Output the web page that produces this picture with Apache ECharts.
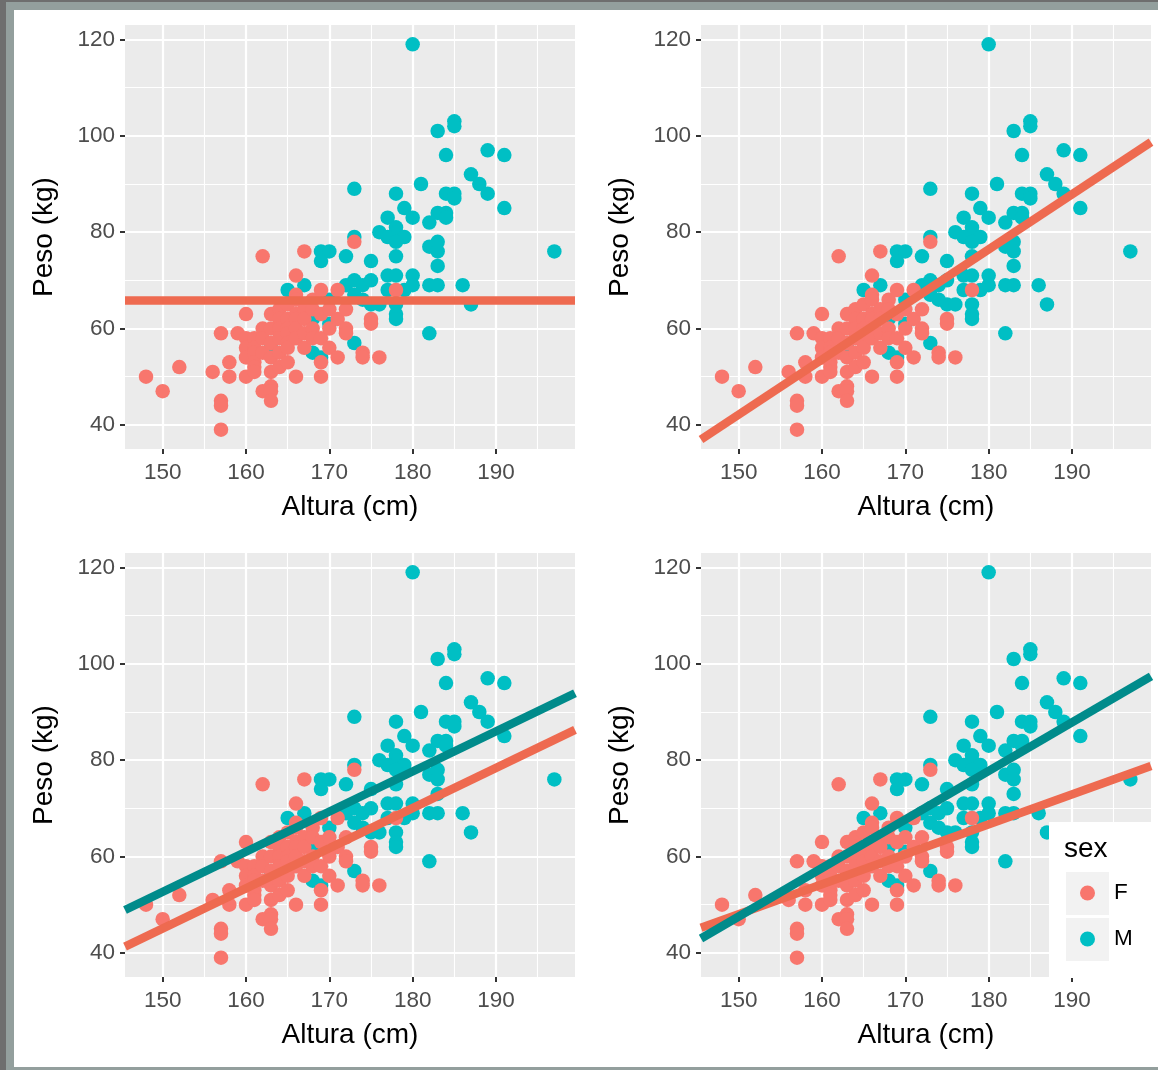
<!DOCTYPE html>
<html><head><meta charset="utf-8">
<script src="https://cdn.jsdelivr.net/npm/echarts@6/dist/echarts.min.js"></script>
<style>
html,body{margin:0;padding:0;width:1158px;height:1070px;overflow:hidden;background:#6e6e6e;}
#frame{position:absolute;left:6px;top:2px;width:1152px;height:1068px;background:#939f9d;}
#paper{position:absolute;left:14px;top:10px;width:1144px;height:1057px;background:#ffffff;}
#chart{position:absolute;left:0;top:0;width:1158px;height:1070px;}
</style></head>
<body>
<div id="frame"></div><div id="paper"></div>
<div id="chart"></div>
<script>
// ---- data ----
const femalePoints = [
 [148,50],[150,47],[152,52],[156,51],[157,59],[157,45],[157,44],[157,39],[158,53],[158,50],[159,59],
 [160,63],[160,58],[160,56],[160,54],[160,50],
 [161,58],[161,56],[161,55],[161,53],[161,52],[161,51],
 [162,75],[162,60],[162,58],[162,55],[162,47],
 [163,63],[163,60],[163,57],[163,54],[163,51],[163,48],[163,47],[163,45],
 [164,64],[164,62],[164,60],[164,58],[164,55],[164,52],
 [165,65],[165,62],[165,60],[165,59],[165,57],[165,56],[165,53],
 [166,71],[166,67],[166,66],[166,63],[166,62],[166,60],[166,58],[166,50],
 [167,76],[167,64],[167,62],[167,59],[167,56],
 [168,66],[168,64],[168,60],[168,58],
 [169,68],[169,63],[169,58],[169,53],[169,50],
 [170,64],[170,60],[170,56],
 [171,68],[171,62],[171,54],
 [172,64],[172,60],[172,59],
 [173,78],
 [174,55],[174,54],
 [175,62],[175,61],
 [176,54],
 [178,68]
];
const malePoints = [
 [180,119],[185,103],[185,102],[183,101],[184,96],[189,97],[191,96],[187,92],[188,90],[189,88],
 [181,90],[173,89],[178,88],[184,88],[185,88],[185,87],[191,85],[179,85],[180,83],[177,83],
 [183,84],[184,84],[184,83],[182,82],[178,81],[176,80],[178,80],[177,79],[179,79],[178,78],
 [173,79],[169,76],[170,76],[169,74],[172,75],[175,74],[178,75],[182,77],[183,78],[183,76],
 [183,73],[197,76],[165,68],[167,69],[170,66],[172,69],[173,70],[174,69],[173,67],[175,70],
 [177,71],[178,71],[180,71],[180,69],[182,69],[183,69],[186,69],[187,65],[182,59],[174,66],
 [175,65],[176,65],[178,65],[178,63],[178,62],[177,68],[179,68],[168,62],[170,61],[168,55],
 [169,54],[173,57],[163,56]
];
const xRange = [145.48, 199.48];
const yRange = [35, 123];
const xTicks = [150,160,170,180,190];
const xMinor = [155,165,175,185,195];
const yTicks = [40,60,80,100,120];
const yMinor = [50,70,90,110];
// fitted lines: weight at the two ends of xRange
const meanWeight = [65.8, 65.8];
const fitAll = [36.97, 98.7];
const parallelF = [41.3, 86.3];
const parallelM = [48.9, 93.9];
const separateF = [45.2, 78.8];
const separateM = [43.0, 97.4];
const sexLevels = ['F','M'];
const xTitle = 'Altura (cm)';
const yTitle = 'Peso (kg)';

// ---- styling ----
const FONT = "'Liberation Sans', Arial, Helvetica, sans-serif";
const colF = '#F8766D', colM = '#00BFC4';
const lineRed = '#EE6A50', lineTeal = '#008B8B';
const panels = [{left:125, top:25},{left:701, top:25},{left:125, top:553},{left:701, top:553}];
const PW = 450, PH = 424;

const grid = panels.map(p => ({left:p.left, top:p.top, width:PW, height:PH, show:true,
  backgroundColor:'#EBEBEB', borderWidth:0, containLabel:false}));

const xAxis = panels.map((p,i) => ({
  gridIndex:i, type:'value', min:xRange[0], max:xRange[1],
  name:xTitle, nameLocation:'middle', nameGap:44,
  nameTextStyle:{fontSize:28, color:'#000', fontFamily:FONT},
  axisLine:{show:false},
  axisTick:{show:true, customValues:xTicks, length:5, lineStyle:{color:'#333333', width:2}},
  axisLabel:{customValues:xTicks, fontSize:22.5, color:'#4D4D4D', fontFamily:FONT, margin:12},
  splitLine:{show:false}
}));
const yAxis = panels.map((p,i) => ({
  gridIndex:i, type:'value', min:yRange[0], max:yRange[1],
  name:yTitle, nameLocation:'middle', nameGap:67,
  nameTextStyle:{fontSize:28, color:'#000', fontFamily:FONT},
  axisLine:{show:false},
  axisTick:{show:true, customValues:yTicks, length:5, lineStyle:{color:'#333333', width:2}},
  axisLabel:{customValues:yTicks, fontSize:22.5, color:'#4D4D4D', fontFamily:FONT, margin:10},
  splitLine:{show:false}
}));

const series = [];
panels.forEach((p,i) => {
  // panel grid lines
  series.push({
    type:'scatter', xAxisIndex:i, yAxisIndex:i, data:[], z:1, silent:true,
    markLine:{silent:true, z:1, symbol:'none', label:{show:false}, animation:false,
      data:[
        ...xMinor.map(v=>({xAxis:v, lineStyle:{color:'#FFFFFF', width:1.1, type:'solid'}})),
        ...yMinor.map(v=>({yAxis:v, lineStyle:{color:'#FFFFFF', width:1.1, type:'solid'}})),
        ...xTicks.map(v=>({xAxis:v, lineStyle:{color:'#FFFFFF', width:2.2, type:'solid'}})),
        ...yTicks.map(v=>({yAxis:v, lineStyle:{color:'#FFFFFF', width:2.2, type:'solid'}}))
      ]}
  });
  series.push({name:'M', type:'scatter', xAxisIndex:i, yAxisIndex:i, data:malePoints,
    symbolSize:14.5, itemStyle:{color:colM, opacity:1}, z:2});
  series.push({name:'F', type:'scatter', xAxisIndex:i, yAxisIndex:i, data:femalePoints,
    symbolSize:14.5, itemStyle:{color:colF, opacity:1}, z:2});
});
function fitLine(i, ends, color){
  return {type:'line', xAxisIndex:i, yAxisIndex:i, symbol:'none', z:3, silent:true,
    data:[[xRange[0], ends[0]],[xRange[1], ends[1]]],
    lineStyle:{color:color, width:8.5, cap:'butt'}, clip:true};
}
series.push(fitLine(0, meanWeight, lineRed));
series.push(fitLine(1, fitAll, lineRed));
series.push(fitLine(2, parallelF, lineRed));
series.push(fitLine(2, parallelM, lineTeal));
series.push(fitLine(3, separateF, lineRed));
series.push(fitLine(3, separateM, lineTeal));

const legendCommon = {orient:'vertical', left:1080, itemWidth:15, itemHeight:15, icon:'circle',
  padding:0, z:6, selectedMode:false,
  textStyle:{fontSize:22.5, color:'#000', fontFamily:FONT, lineHeight:24, padding:[0,0,0,14]}};
const legend = [
  Object.assign({}, legendCommon, {data:[sexLevels[0]], top:881}),
  Object.assign({}, legendCommon, {data:[sexLevels[1]], top:927})
];

const graphic = [
  {type:'rect', z:5, shape:{x:1049, y:822, width:115, height:156}, style:{fill:'#FFFFFF'}, silent:true},
  {type:'rect', z:5, z2:1, shape:{x:1066, y:872, width:43, height:43}, style:{fill:'#F2F2F2'}, silent:true},
  {type:'rect', z:5, z2:1, shape:{x:1066, y:918, width:43, height:43}, style:{fill:'#F2F2F2'}, silent:true},
  {type:'text', z:5, z2:2, left:1064, top:835, style:{text:'sex', fontSize:28, fill:'#000', fontFamily:FONT}}
];

const chart = echarts.init(document.getElementById('chart'), null, {renderer:'canvas'});
chart.setOption({
  backgroundColor:'transparent', animation:false,
  grid, xAxis, yAxis, series, legend, graphic
});
</script>
</body></html>
